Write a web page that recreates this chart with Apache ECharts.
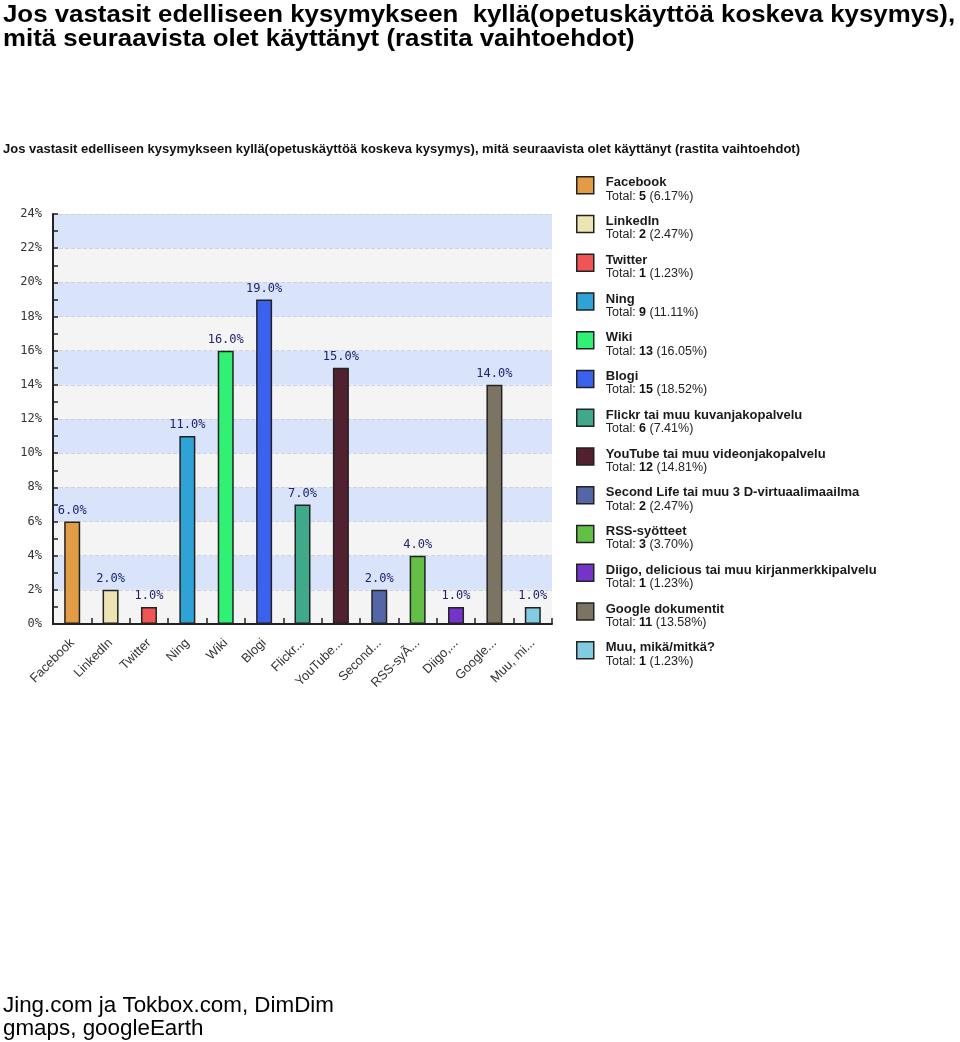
<!DOCTYPE html>
<html>
<head>
<meta charset="utf-8">
<script src="https://cdn.jsdelivr.net/npm/echarts@6/dist/echarts.min.js"></script>
<style>
html,body{margin:0;padding:0;background:#fff;}
#chart{position:absolute;left:0;top:0;width:960px;height:1042px;}
</style>
</head>
<body>
<div id="chart"></div>
<script>
const pageTitle = 'Jos vastasit edelliseen kysymykseen  kyllä(opetuskäyttöä koskeva kysymys),\nmitä seuraavista olet käyttänyt (rastita vaihtoehdot)';
const chartTitle = 'Jos vastasit edelliseen kysymykseen kyllä(opetuskäyttöä koskeva kysymys), mitä seuraavista olet käyttänyt (rastita vaihtoehdot)';
const footerText = 'Jing.com ja Tokbox.com, DimDim\ngmaps, googleEarth';

const categories = ['Facebook','LinkedIn','Twitter','Ning','Wiki','Blogi','Flickr...','YouTube...','Second...','RSS-syÃ...','Diigo,...','Google...','Muu, mi...'];
const legendNames = ['Facebook','LinkedIn','Twitter','Ning','Wiki','Blogi','Flickr tai muu kuvanjakopalvelu','YouTube tai muu videonjakopalvelu','Second Life tai muu 3 D-virtuaalimaailma','RSS-syötteet','Diigo, delicious tai muu kirjanmerkkipalvelu','Google dokumentit','Muu, mikä/mitkä?'];
const percentValues = [6, 2, 1, 11, 16, 19, 7, 15, 2, 4, 1, 14, 1];
const totals = [5, 2, 1, 9, 13, 15, 6, 12, 2, 3, 1, 11, 1];
const totalPercents = ['6.17%','2.47%','1.23%','11.11%','16.05%','18.52%','7.41%','14.81%','2.47%','3.70%','1.23%','13.58%','1.23%'];
const colors = ['#e29c45','#ede3b3','#f05556','#2fa3d6','#31f174','#3a62ee','#3fa98a','#512130','#5367a6','#63bf46','#7434c9','#7c7462','#82cbe0'];

const chart = echarts.init(document.getElementById('chart'), null, {renderer: 'canvas'});

const series = legendNames.map((name, i) => ({
  name: name,
  type: 'bar',
  barWidth: 16,
  barGap: '-100%',
  data: categories.map((c, j) => j === i ? percentValues[i] : '-'),
  itemStyle: {color: colors[i], borderColor: '#222', borderWidth: 1.5},
  label: {
    show: true,
    position: 'top',
    distance: 5,
    formatter: p => p.value.toFixed(1) + '%',
    fontFamily: 'DejaVu Sans Mono, monospace',
    fontSize: 12,
    color: '#1d2370'
  },
  emphasis: {disabled: true}
}));

const legendIndex = {};
legendNames.forEach((n, i) => legendIndex[n] = i);

chart.setOption({
  animation: false,
  color: colors,
  graphic: [
    {
      type: 'text',
      x: 3, y: 3,
      scaleX: 1.095,
      style: {
        text: pageTitle,
        x: 0, y: 0,
        verticalAlign: 'top',
        font: 'bold 23.6px "Liberation Sans", Arial, sans-serif',
        lineHeight: 24.5,
        fill: '#000'
      }
    }
  ],
  title: [
    {
      text: chartTitle,
      left: 3, top: 143, padding: 0,
      textStyle: {fontFamily: 'Liberation Sans, Arial, sans-serif', fontWeight: 'bold', fontSize: 13, color: '#111'}
    },
    {
      text: footerText,
      left: 3, top: 994, padding: 0,
      textStyle: {fontFamily: 'Liberation Sans, Arial, sans-serif', fontWeight: 'normal', fontSize: 22.4, lineHeight: 23, color: '#000'}
    }
  ],
  legend: {
    orient: 'vertical',
    left: 576,
    top: 176,
    padding: 0,
    itemWidth: 17,
    itemHeight: 17,
    itemGap: 12,
    icon: 'rect',
    selectedMode: false,
    data: legendNames,
    itemStyle: {borderColor: '#222', borderWidth: 1.5},
    formatter: name => {
      const i = legendIndex[name];
      return '{n|' + name + '}\n{t|Total: }{c|' + totals[i] + '}{t| (' + totalPercents[i] + ')}';
    },
    textStyle: {
      padding: [8, 0, 0, 7],
      rich: {
        n: {fontFamily: 'Liberation Sans, Arial, sans-serif', fontWeight: 'bold', fontSize: 13, color: '#1a1a1a', lineHeight: 14},
        t: {fontFamily: 'Liberation Sans, Arial, sans-serif', fontSize: 12.5, color: '#222', lineHeight: 13},
        c: {fontFamily: 'Liberation Sans, Arial, sans-serif', fontWeight: 'bold', fontSize: 12.5, color: '#111', lineHeight: 13}
      }
    }
  },
  grid: {left: 53, right: 408, top: 214, bottom: 418, containLabel: false},
  xAxis: {
    type: 'category',
    data: categories,
    boundaryGap: true,
    axisLine: {lineStyle: {color: '#222', width: 2}},
    axisTick: {show: true, inside: true, length: 6, alignWithLabel: false, lineStyle: {color: '#222', width: 1.5}},
    axisLabel: {
      rotate: 45,
      margin: 17,
      interval: 0,
      fontFamily: 'Liberation Sans, Arial, sans-serif',
      fontSize: 12.8,
      color: '#333'
    }
  },
  yAxis: {
    type: 'value',
    min: 0,
    max: 24,
    interval: 2,
    axisLine: {show: true, lineStyle: {color: '#222', width: 2}},
    axisTick: {show: true, inside: true, length: 5, lineStyle: {color: '#222', width: 1.5}},
    minorTick: {show: true, splitNumber: 2, length: 5, lineStyle: {color: '#222', width: 1.5}},
    axisLabel: {
      formatter: '{value}%',
      margin: 11,
      fontFamily: 'DejaVu Sans Mono, monospace',
      fontSize: 12,
      color: '#333'
    },
    splitLine: {show: true, lineStyle: {color: '#cdd2dc', type: 'dashed', width: 1}},
    splitArea: {show: true, areaStyle: {color: ['#f4f4f4', '#d9e3fa']}}
  },
  series: series
});
</script>
</body>
</html>
